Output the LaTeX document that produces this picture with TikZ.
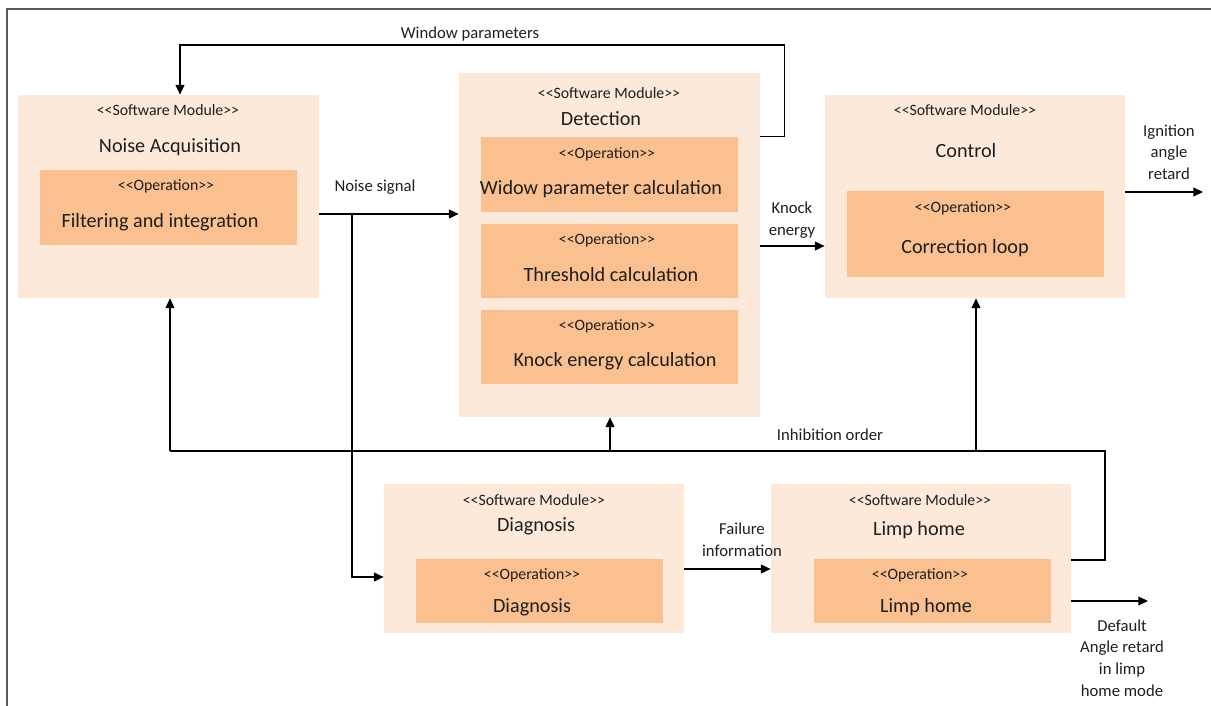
\documentclass[tikz,border=0pt]{standalone}
\usepackage{fontspec}
\setmainfont{Carlito}
\usetikzlibrary{arrows.meta,fit}

\definecolor{modfill}{HTML}{FDE9D9}
\definecolor{opfill}{HTML}{FAC090}
\definecolor{framegray}{HTML}{5A5A5A}
\definecolor{txt}{HTML}{1E1E1E}

\newcommand{\stereo}[1]{<{}<#1>{}>}

\tikzset{
  module/.style={fill=modfill, inner sep=0pt},
  oper/.style={fill=opfill, inner sep=0pt},
  stname/.style={text=txt, inner sep=1pt, font=\fontsize{9}{11}\selectfont},
  title/.style={text=txt, inner sep=1pt, font=\fontsize{11.5}{13.5}\selectfont},
  lbl/.style={text=txt, inner sep=1pt, align=center, font=\fontsize{9.5}{12.3}\selectfont},
  line/.style={line width=0.8pt, black},
  conn/.style={line, -{Triangle[length=5.5pt,width=5pt]}}
}

\begin{document}
\begin{tikzpicture}[x=0.02cm,y=-0.02cm]
\useasboundingbox (0,0) rectangle (1211,706);
\draw[framegray, line width=1.2pt] (7,706) -- (7,9) -- (1211,9);

% noise acquisition
\node[module, fit={(18,95) (319,298)}] (noise) {};
\node[oper, fit={(40,170) (297,245)}] (filt) {};
\node[stname] (noise-st) at (168,110) {\stereo{Software Module}};
\node[title] (noise-t) at (170,147) {Noise Acquisition};
\node[stname] (filt-st) at (166,186) {\stereo{Operation}};
\node[title] (filt-t) at (160,222) {Filtering and integration};

% detection
\node[module, fit={(459,73) (760,417)}] (det) {};
\node[oper, fit={(481,137) (738,212)}] (wpop) {};
\node[oper, fit={(481,224) (738,298)}] (thop) {};
\node[oper, fit={(481,310) (738,384)}] (keop) {};
\node[stname] (det-st) at (609,93) {\stereo{Software Module}};
\node[title] (det-t) at (601,119) {Detection};
\node[stname] (wpop-st) at (607,154) {\stereo{Operation}};
\node[title] (wpop-t) at (601,189) {Widow parameter calculation};
\node[stname] (thop-st) at (607,240) {\stereo{Operation}};
\node[title] (thop-t) at (611,275) {Threshold calculation};
\node[stname] (keop-st) at (607,326) {\stereo{Operation}};
\node[title] (keop-t) at (615,361) {Knock energy calculation};

% control
\node[module, fit={(825,95) (1125,298)}] (ctrl) {};
\node[oper, fit={(847,191) (1104,277)}] (corr) {};
\node[stname] (ctrl-st) at (965,110) {\stereo{Software Module}};
\node[title] (ctrl-t) at (966,151) {Control};
\node[stname] (corr-st) at (963,208) {\stereo{Operation}};
\node[title] (corr-t) at (965,248) {Correction loop};

% diagnosis
\node[module, fit={(384,484) (684,633)}] (diag) {};
\node[oper, fit={(416,559) (663,623)}] (diagop) {};
\node[stname] (diag-st) at (534,500) {\stereo{Software Module}};
\node[title] (diag-t) at (536,526) {Diagnosis};
\node[stname] (diagop-st) at (532,575) {\stereo{Operation}};
\node[title] (diagop-t) at (532,607) {Diagnosis};

% limp home
\node[module, fit={(771,484) (1071,633)}] (limp) {};
\node[oper, fit={(814,559) (1051,623)}] (limpop) {};
\node[stname] (limp-st) at (920,500) {\stereo{Software Module}};
\node[title] (limp-t) at (919,530) {Limp home};
\node[stname] (limpop-st) at (920,575) {\stereo{Operation}};
\node[title] (limpop-t) at (926,607) {Limp home};

% signals
\node[lbl] (wp-l) at (470,34) {Window parameters};
\node[lbl] (ns-l) at (375,187) {Noise signal};
\node[lbl] (ke-l) at (792,220) {Knock\\energy};
\node[lbl] (ign-l) at (1169,152) {Ignition\\angle\\retard};
\node[lbl] (inh-l) at (830,435) {Inhibition order};
\node[lbl] (fail-l) at (742,540) {Failure\\information};
\node[lbl] (def-l) at (1122,658) {Default\\Angle retard\\in limp\\home mode};

\coordinate (split) at (352,214);
\coordinate (ign) at (1203,192);
\coordinate (def) at (1148,601);
\coordinate (inh) at (1105,451);

\draw[conn] (det.east |- wpop.north) -- ++(24,0) |- (180,45) -- (noise.north -| 180,0);
\draw[conn] (noise.east |- split) -- (det.west |- split);
\draw[conn] (split) |- (diag.west |- 0,577);
\draw[conn] (det.east |- 0,246) -- (ctrl.west |- 0,246);
\draw[conn] (ctrl.east |- ign) -- (ign);
\draw[conn] (diag.east |- 0,569) -- (limp.west |- 0,569);
\draw[conn] (limp.east |- def) -- (def);
\draw[line] (limp.east |- 0,560) -| (inh) -- (170,451);
\draw[conn] (170,451) -- (noise.south -| 170,0);
\draw[conn] (610,451) -- (det.south -| 610,0);
\draw[conn] (976,451) -- (ctrl.south -| 976,0);
\end{tikzpicture}
\end{document}
